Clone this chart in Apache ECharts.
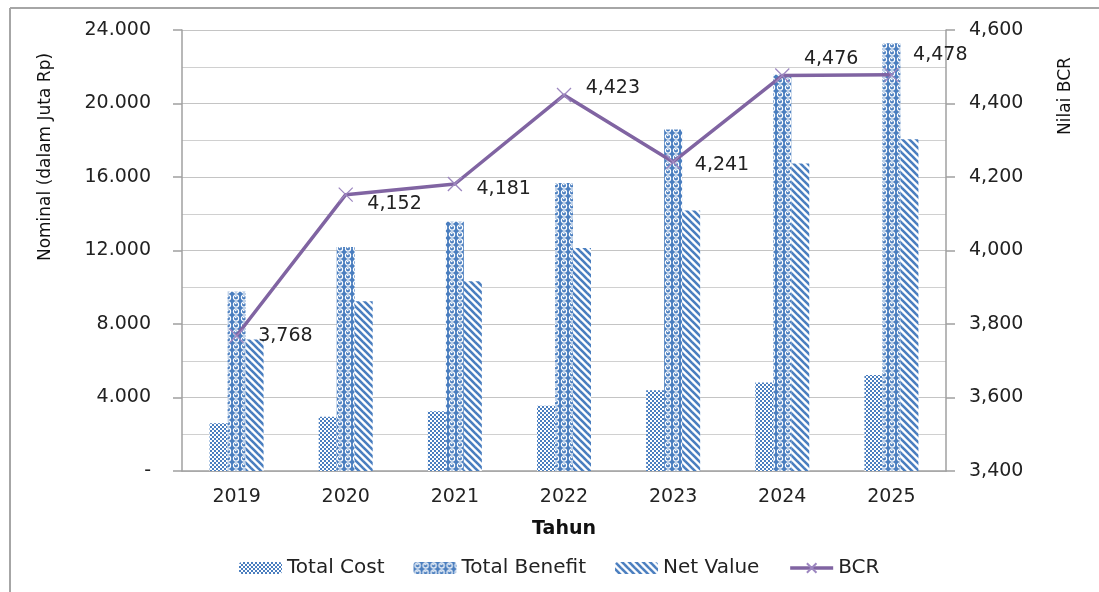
<!DOCTYPE html>
<html>
<head>
<meta charset="utf-8">
<script src="https://cdn.jsdelivr.net/npm/echarts@6/dist/echarts.min.js"></script>
<style>html,body{margin:0;padding:0;background:#fff;}#c{width:1099px;height:592px;}</style>
</head>
<body>
<div id="c"></div>
<script>
var years = ['2019','2020','2021','2022','2023','2024','2025'];
var totalCost = [2600, 2950, 3250, 3550, 4400, 4820, 5220];
var totalBenefit = [9760, 12190, 13570, 15680, 18580, 21560, 23280];
var netValue = [7160, 9240, 10320, 12130, 14180, 16740, 18060];
var bcr = [3.768, 4.152, 4.181, 4.423, 4.241, 4.476, 4.478];
var bcrLabelDy = [0, 9, 5, -7, 3, -17, -20];

var BLUE = '#4a7ebf';
function mk(w, h, draw) {
  var c = document.createElement('canvas');
  c.width = w; c.height = h;
  var g = c.getContext('2d');
  g.fillStyle = '#fff'; g.fillRect(0, 0, w, h);
  draw(g);
  return { image: c, repeat: 'repeat' };
}
var patCost = mk(4, 4, function (g) {
  g.fillStyle = BLUE;
  g.fillRect(0, 0, 2, 2); g.fillRect(2, 2, 2, 2);
});
var patBenefit = mk(8, 7, function (g) {
  g.fillStyle = BLUE; g.fillRect(0, 0, 8, 7);
  g.strokeStyle = '#fff'; g.lineWidth = 1.2;
  g.beginPath(); g.arc(4, 3.5, 2.6, 0, Math.PI * 2); g.stroke();
  g.fillStyle = '#fff'; g.fillRect(3, 2, 1.5, 1.2);
});
var patNet = mk(7, 7, function (g) {
  g.strokeStyle = BLUE; g.lineWidth = 2.6;
  [-7, 0, 7].forEach(function (s) {
    g.beginPath(); g.moveTo(s - 1, -1); g.lineTo(s + 8, 8); g.stroke();
  });
});

var FONT = 'DejaVu Sans';
var chart = echarts.init(document.getElementById('c'), null, { renderer: 'canvas' });
chart.setOption({
  animation: false,
  textStyle: { fontFamily: FONT },
  grid: { left: 182, right: 153, top: 30, bottom: 121 },
  legend: {
    left: 234, top: 553,
    itemWidth: 43, itemHeight: 12, itemGap: 29,
    textStyle: { fontFamily: FONT, fontSize: 20, color: '#222' },
    data: ['Total Cost', 'Total Benefit', 'Net Value',
      { name: 'BCR', lineStyle: { width: 3.5 } }]
  },
  xAxis: {
    type: 'category', data: years,
    name: 'Tahun', nameLocation: 'middle', nameGap: 49,
    nameTextStyle: { fontFamily: FONT, fontSize: 19, fontWeight: 'bold', color: '#111' },
    axisLine: { lineStyle: { color: '#a0a0a0', width: 1.5 } },
    axisTick: { show: false },
    axisLabel: { fontSize: 19, color: '#222', margin: 17 }
  },
  yAxis: [{
    type: 'value', min: 0, max: 24000, interval: 4000,
    axisLine: { show: true, lineStyle: { color: '#a0a0a0', width: 1.5 } },
    axisTick: { show: true, length: 9, lineStyle: { color: '#a0a0a0', width: 1.5 } },
    axisLabel: {
      fontSize: 19, color: '#222', margin: 31,
      formatter: function (v) { return v === 0 ? '-' : (v / 1000).toFixed(0) + '.000'; }
    },
    splitLine: { show: true, lineStyle: { color: '#c4c4c4', width: 1.2 } },
    minorTick: { show: false, splitNumber: 2 },
    minorSplitLine: { show: true, lineStyle: { color: '#d0d0d0', width: 1.2 } }
  }, {
    type: 'value', min: 3400, max: 4600, interval: 200, position: 'right',
    axisLine: { show: true, lineStyle: { color: '#a0a0a0', width: 1.5 } },
    axisTick: { show: true, length: 9, lineStyle: { color: '#a0a0a0', width: 1.5 } },
    axisLabel: {
      fontSize: 19, color: '#222', margin: 23,
      formatter: function (v) { return Math.floor(v / 1000) + ',' + String(v % 1000).padStart(3, '0'); }
    },
    splitLine: { show: false }
  }],
  graphic: [
    { type: 'line', shape: { x1: 10, y1: 8, x2: 1099, y2: 8 }, style: { stroke: '#a6a6a6', lineWidth: 2 }, silent: true },
    { type: 'line', shape: { x1: 10, y1: 8, x2: 10, y2: 592 }, style: { stroke: '#a6a6a6', lineWidth: 2 }, silent: true },
    { type: 'text', x: 46, y: 157, rotation: Math.PI / 2,
      style: { text: 'Nominal (dalam Juta Rp)', fontFamily: FONT, fontSize: 17, fill: '#111', textAlign: 'center', textVerticalAlign: 'middle' } },
    { type: 'text', x: 1066, y: 96, rotation: Math.PI / 2,
      style: { text: 'Nilai BCR', fontFamily: FONT, fontSize: 17, fill: '#111', textAlign: 'center', textVerticalAlign: 'middle' } }
  ],
  series: [
    { name: 'Total Cost', type: 'bar', data: totalCost, barWidth: 18, barGap: '0%', itemStyle: { color: patCost } },
    { name: 'Total Benefit', type: 'bar', data: totalBenefit, barWidth: 18, barGap: '0%', itemStyle: { color: patBenefit } },
    { name: 'Net Value', type: 'bar', data: netValue, barWidth: 18, barGap: '0%', itemStyle: { color: patNet } },
    {
      name: 'BCR', type: 'line', yAxisIndex: 1, z: 5,
      data: bcr.map(function (v, i) {
        return { value: v * 1000, label: { offset: [0, bcrLabelDy[i]] } };
      }),
      lineStyle: { color: '#8064A2', width: 3.5 },
      symbol: 'path://M0,0L10,10M10,0L0,10', symbolSize: 14,
      itemStyle: { color: '#8064A2', borderColor: '#9d87c0', borderWidth: 1.3 },
      label: {
        show: true, position: 'right', distance: 14,
        fontFamily: FONT, fontSize: 19, color: '#222',
        formatter: function (p) { return (p.value / 1000).toFixed(3).replace('.', ','); }
      }
    }
  ]
});
</script>
</body>
</html>
